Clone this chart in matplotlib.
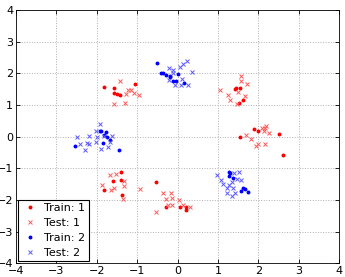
import matplotlib
matplotlib.use("Agg")
import matplotlib.pyplot as plt

train1_x = [-1.81, -1.56, -1.56, -1.50, -1.42, -1.04,
            1.43, 1.46, 1.55, 1.61, 1.53,
            1.55, 1.90, 2.00, 2.51, 2.60,
            -1.39, -1.41, -1.59, -1.81, -1.37,
            -0.52, -0.28, 0.06, 0.20, 0.22]
train1_y = [1.56, 1.53, 1.39, 1.33, 1.31, 1.65,
            1.49, 1.53, 1.53, 1.16, 1.07,
            0.00, 0.25, 0.16, 0.08, -0.58,
            -1.13, -1.37, -1.40, -1.69, -1.86,
            -1.42, -2.21, -2.21, -2.21, -2.32]

test1_x = [-1.42, -1.22, -1.16, -1.27, -1.08, -0.96, -1.56, -1.31,
           1.57, 1.57, 1.71, 1.06, 1.24, 1.29, 1.49, 1.66, 1.47,
           1.70, 1.83, 1.95, 2.00, 2.10, 2.13, 2.16, 2.20, 2.26, 2.16,
           -1.67, -1.51, -1.33, -1.32, -1.56, -1.87, -1.65, -1.35, -0.93,
           -0.35, -0.15, -0.29, -0.14, -0.23, -0.14, 0.03, 0.13, 0.32, -0.52]
test1_y = [1.76, 1.47, 1.47, 1.35, 1.37, 1.32, 1.02, 1.07,
           1.91, 1.74, 1.65, 1.47, 1.31, 1.15, 1.40, 1.27, 1.02,
           0.04, -0.08, -0.31, -0.22, 0.26, 0.19, 0.28, 0.34, 0.12, -0.23,
           -1.20, -1.19, -1.39, -1.55, -1.61, -1.53, -1.69, -1.98, -1.66,
           -1.79, -1.77, -1.98, -1.95, -2.15, -2.15, -2.01, -2.15, -2.22, -2.39]

train2_x = [-0.51, -0.41, -0.36, -0.29, -0.19, -0.18, -0.10, -0.04, 0.00, 0.16,
            -2.53, -1.92, -1.89, -1.77, -1.81, -1.75, -1.67, -1.46, -1.85,
            1.28, 1.30, 1.27, 1.38, 1.62, 1.67, 1.74, 1.56]
train2_y = [2.31, 2.02, 2.02, 1.95, 1.92, 1.87, 1.76, 1.74, 1.98, 1.69,
            -0.29, 0.19, 0.19, 0.13, 0.05, 0.00, -0.11, -0.43, -0.19,
            -1.11, -1.14, -1.25, -1.32, -1.63, -1.66, -1.74, -1.71]

test2_x = [-0.22, -0.11, -0.12, 0.06, 0.13, 0.24, 0.37, -0.21, -0.07, 0.10, 0.08, 0.25,
           -2.48, -2.41, -2.30, -2.24, -2.18, -2.20, -2.01, -1.91, -1.98, -2.01, -1.89,
           -1.71, -1.61, -1.68, -1.83,
           0.98, 1.07, 1.12, 1.22, 1.27, 1.35, 1.41, 1.51, 1.47, 1.58, 1.22, 1.36, 1.42, 1.38]
test2_y = [2.16, 2.11, 2.02, 2.21, 2.28, 2.39, 2.03, 1.79, 1.63, 1.83, 1.64, 1.64,
           -0.02, -0.24, -0.44, -0.19, 0.03, -0.25, 0.17, 0.39, -0.02, -0.17, -0.38,
           -0.34, 0.03, -0.16, 0.01,
           -1.21, -1.37, -1.51, -1.61, -1.53, -1.44, -1.14, -1.11, -1.33, -1.38, -1.77, -1.89, -1.77, -1.64]

ticks = [-4, -3, -2, -1, 0, 1, 2, 3, 4]

fig = plt.figure(figsize=(3.45, 2.77), dpi=100)
ax = fig.add_axes([0.046, 0.05, 0.937, 0.914])

ax.plot(train1_x, train1_y, '.', color='#ff0000', markersize=3.6, label='Train: 1')
ax.plot(test1_x, test1_y, 'x', color='#ff5a5a', markersize=2.4, mew=0.7, label='Test: 1')
ax.plot(train2_x, train2_y, '.', color='#0000ff', markersize=3.6, label='Train: 2')
ax.plot(test2_x, test2_y, 'x', color='#5a5aff', markersize=2.4, mew=0.7, label='Test: 2')

ax.set_xlim(-4, 4)
ax.set_ylim(-4, 4)
ax.set_xticks(ticks)
ax.set_yticks(ticks)
ax.grid(True, linestyle=':', color='#b0b0b0', linewidth=0.7)
ax.tick_params(direction='in', labelsize=8, length=3, width=0.6, top=True, right=True, pad=2)
for s in ax.spines.values():
    s.set_linewidth(0.6)

leg = ax.legend(loc='lower left', fontsize=8, fancybox=False, framealpha=1,
                edgecolor='black', borderaxespad=0.15, handletextpad=0.5,
                labelspacing=0.45, borderpad=0.3, handlelength=1.6)
leg.get_frame().set_linewidth(0.8)

fig.savefig('out.png', dpi=100)
